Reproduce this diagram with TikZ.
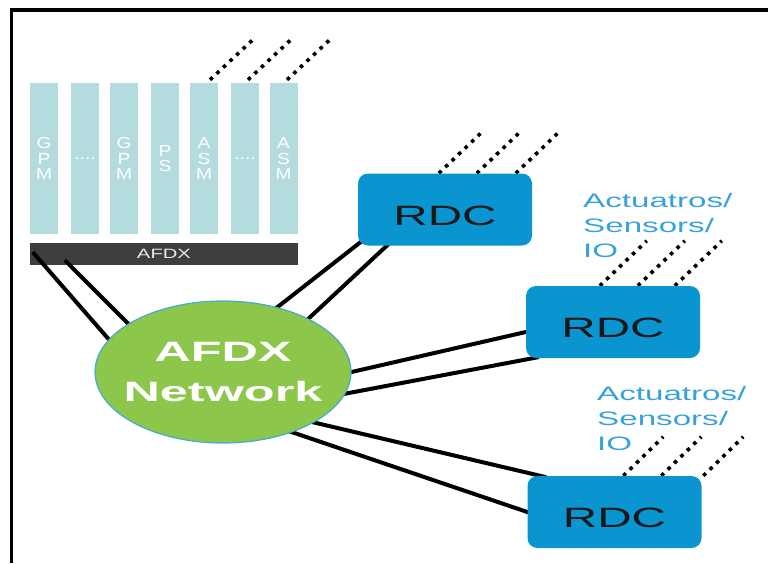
\documentclass[tikz,border=0pt]{standalone}
\usepackage{fontspec}
\setmainfont{Liberation Sans}
\newfontfamily\rdcfont[FakeStretch=1.7]{Liberation Sans}
\newfontfamily\netfont[FakeStretch=1.8]{Liberation Sans}
\newfontfamily\lblfont[FakeStretch=1.7]{Liberation Sans}
\newfontfamily\colfont[FakeStretch=1.2]{Liberation Sans}
\newfontfamily\barfont[FakeStretch=1.5]{Liberation Sans}
\usetikzlibrary{shapes.geometric}
\pgfdeclarelayer{bg}
\pgfdeclarelayer{lines}
\pgfsetlayers{bg,lines,main}
\definecolor{rdcblue}{RGB}{10,148,208}
\definecolor{colteal}{RGB}{180,220,222}
\definecolor{bardark}{RGB}{62,62,62}
\definecolor{netgreen}{RGB}{140,198,75}
\definecolor{netedge}{RGB}{70,170,210}
\definecolor{lblblue}{RGB}{55,162,218}
\tikzset{
  colbox/.style={fill=colteal, draw=none, minimum width=28pt, minimum height=151pt, inner sep=0pt,
    text=white, align=center, font=\colfont\fontsize{16}{15.5}\selectfont},
  afdxbar/.style={fill=bardark, draw=none, minimum width=268pt, minimum height=22pt, inner sep=0pt,
    text=white!92!black, font=\barfont\fontsize{13.5}{15}\selectfont},
  rdcbox/.style={fill=rdcblue, draw=none, rounded corners=10pt, minimum width=174pt, minimum height=72pt,
    inner sep=0pt, text height=32pt, text=black!90, font=\rdcfont\fontsize{28}{32}\selectfont},
  netnode/.style={ellipse, fill=netgreen, draw=netedge, line width=1.2pt, minimum width=256pt,
    minimum height=142pt, inner sep=0pt},
  nettext/.style={inner sep=0pt, text=white, align=center,
    font=\netfont\bfseries\fontsize{28}{40}\selectfont},
  iolabel/.style={inner sep=0pt, text=lblblue, align=left, anchor=base west,
    font=\lblfont\fontsize{19.5}{25}\selectfont},
  conn/.style={draw=black, line width=4pt},
  dotline/.style={draw=black, line width=3.6pt, dash pattern=on 3.6pt off 5.4pt},
  frameline/.style={draw=black, line width=3.5pt, line join=miter}
}
\begin{document}
\begin{tikzpicture}[x=1pt,y=-1pt]
\useasboundingbox (0,0) rectangle (768,563);

\begin{pgfonlayer}{bg}
  \node[colbox] (c1) at (44,158.5) {G\\P\\M};
  \node[colbox] (c2) at (85,158.5) {....};
  \node[colbox] (c3) at (124,158.5) {G\\P\\M};
  \node[colbox] (c4) at (165,158.5) {P\\S};
  \node[colbox] (c5) at (204,158.5) {A\\S\\M};
  \node[colbox] (c6) at (245,158.5) {....};
  \node[colbox] (c7) at (283.5,158.5) {A\\S\\M};
  \node[afdxbar] (bar) at (164,254) {AFDX};
\end{pgfonlayer}

\node[netnode, label={[nettext]center:AFDX\\Network}] (net) at (223,372) {};
\node[rdcbox] (rdc1) at (445,209.5) {RDC};
\node[rdcbox] (rdc2) at (613,322) {RDC};
\node[rdcbox] (rdc3) at (614.5,512) {RDC};

\node[iolabel] (lab1) at (583,257) {Actuatros/\\Sensors/\\IO};
\node[iolabel] (lab2) at (597,450) {Actuatros/\\Sensors/\\IO};

\begin{pgfonlayer}{lines}
  % bar to network
  \draw[conn, shorten <=-8pt] (net.164.5) -- ([shift={(3,-13)}]bar.south west);
  \draw[conn, shorten <=-8pt] (net.153.4) -- ([shift={(35,-5)}]bar.south west);
  % network to RDC1
  \draw[conn, shorten <=-8pt, shorten >=-6pt] (net.50.3) -- ([shift={(2,-3)}]rdc1.south west);
  \draw[conn, shorten <=-8pt, shorten >=-6pt] (net.32.7) -- ([shift={(29,0)}]rdc1.south west);
  % network to RDC2
  \draw[conn, shorten <=-8pt, shorten >=-6pt] (net.0) -- ([shift={(0,10)}]rdc2.west);
  \draw[conn, shorten <=-8pt, shorten >=-6pt] (net.-10.7) -- ([shift={(7,0)}]rdc2.south west);
  % network to RDC3
  \draw[conn, shorten <=-8pt, shorten >=-6pt] (net.-29.5) -- ([shift={(13,0)}]rdc3.north west);
  \draw[conn, shorten <=-8pt, shorten >=-6pt] (net.-41.8) -- (rdc3.west);

  % dotted lines from modules
  \draw[dotline] ([shift={(6,-3)}]c5.north) -- ++(46,-43);
  \draw[dotline] ([shift={(3,-3)}]c6.north) -- ++(46,-43);
  \draw[dotline] ([shift={(3.5,-3)}]c7.north) -- ++(46,-43);
  % dotted lines from RDCs
  \draw[dotline] ([shift={(81,0)}]rdc1.north west) -- ++(45,-43);
  \draw[dotline] ([shift={(119,0)}]rdc1.north west) -- ++(45,-43);
  \draw[dotline] ([shift={(158,0)}]rdc1.north west) -- ++(45,-43);
  \draw[dotline] ([shift={(74,0)}]rdc2.north west) -- ++(47,-45);
  \draw[dotline] ([shift={(112,0)}]rdc2.north west) -- ++(47,-45);
  \draw[dotline] ([shift={(149,0)}]rdc2.north west) -- ++(47,-45);
  \draw[dotline] ([shift={(96,0)}]rdc3.north west) -- ++(40,-39);
  \draw[dotline] ([shift={(134,0)}]rdc3.north west) -- ++(40,-39);
  \draw[dotline] ([shift={(176,0)}]rdc3.north west) -- ++(40,-39);
\end{pgfonlayer}

\draw[frameline] (11.5,563) -- (11.5,10) -- (768,10);
\end{tikzpicture}
\end{document}
